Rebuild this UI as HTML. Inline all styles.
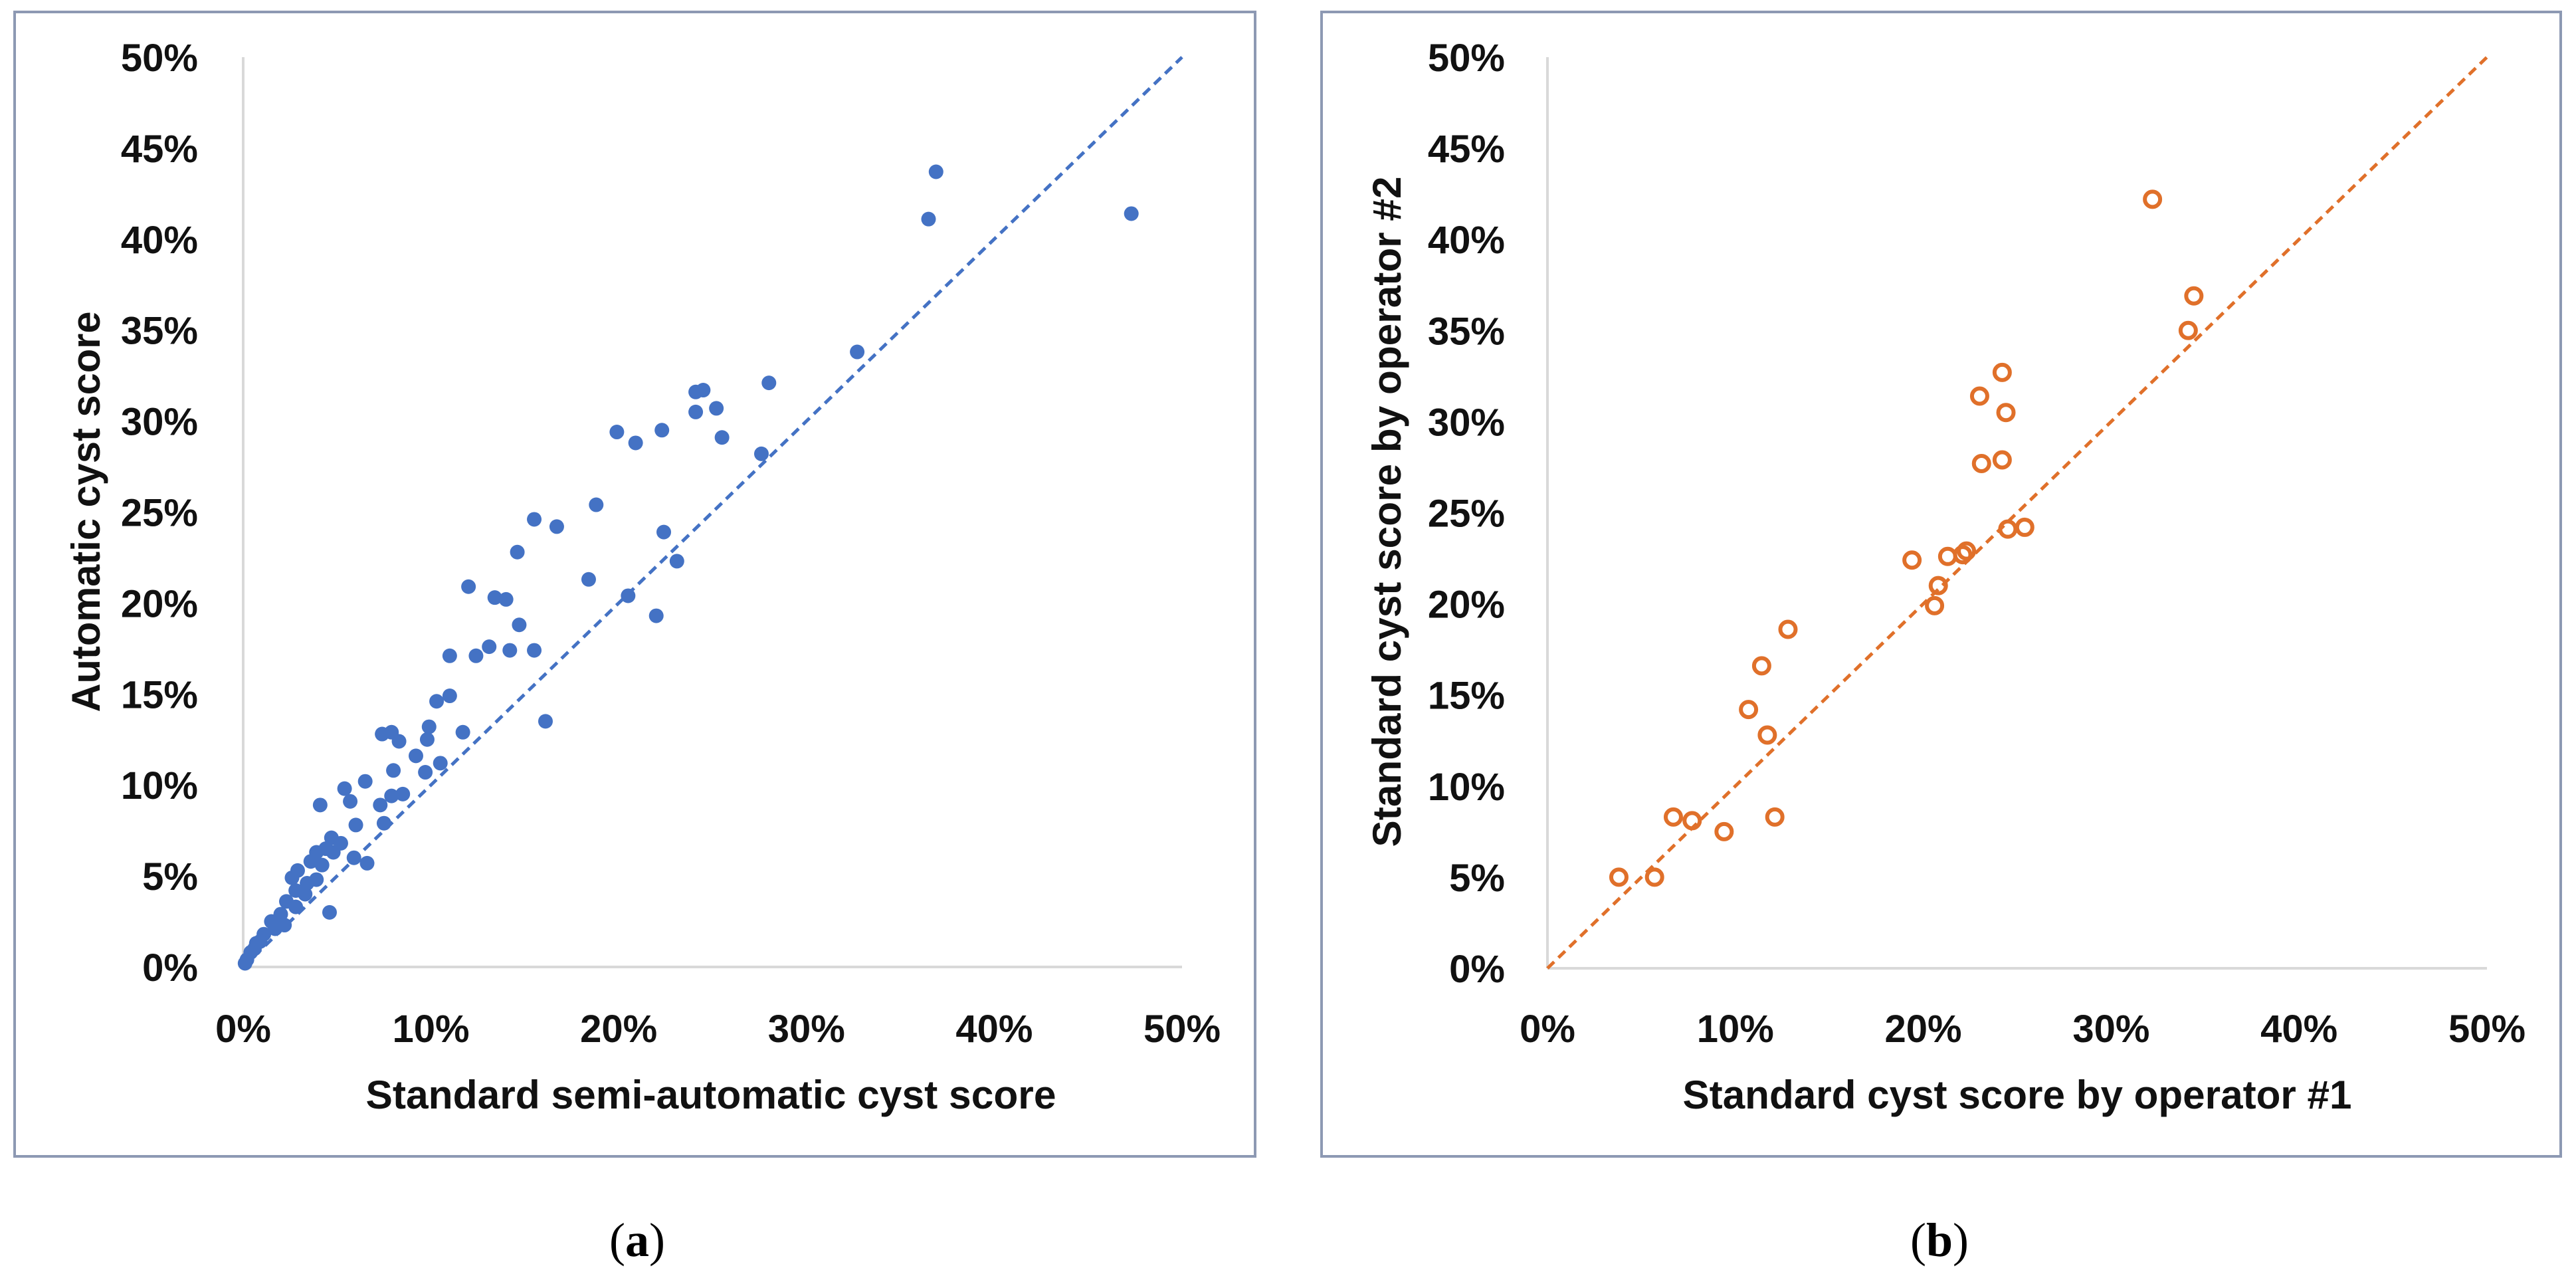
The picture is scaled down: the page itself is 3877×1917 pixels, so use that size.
<!DOCTYPE html>
<html><head><meta charset="utf-8"><style>
html,body{margin:0;padding:0;background:#fff;}
svg{display:block;}
text{font-family:"Liberation Sans",sans-serif;}
</style></head><body>
<svg id="fig" width="3877" height="1917" viewBox="0 0 3877 1917" xmlns="http://www.w3.org/2000/svg">
<rect x="0" y="0" width="3877" height="1917" fill="#fff"/>
<rect x="22" y="18" width="1867" height="1722" fill="none" stroke="#8d99b3" stroke-width="4"/>
<rect x="1989" y="18" width="1865" height="1722" fill="none" stroke="#8d99b3" stroke-width="4"/>
<g id="pa"></g>
<g id="pb"></g>
<text x="1070" y="1668" text-anchor="middle" font-size="60" font-weight="bold" textLength="1039" lengthAdjust="spacingAndGlyphs" fill="#111">Standard semi-automatic cyst score</text>
<text transform="translate(150,770) rotate(-90)" text-anchor="middle" font-size="60" font-weight="bold" textLength="603" lengthAdjust="spacingAndGlyphs" fill="#111">Automatic cyst score</text>
<text x="3036" y="1668" text-anchor="middle" font-size="60" font-weight="bold" textLength="1007" lengthAdjust="spacingAndGlyphs" fill="#111">Standard cyst score by operator #1</text>
<text transform="translate(2108,770) rotate(-90)" text-anchor="middle" font-size="60" font-weight="bold" textLength="1009" lengthAdjust="spacingAndGlyphs" fill="#111">Standard cyst score by operator #2</text>
<text x="959" y="1890" text-anchor="middle" font-size="72" style="font-family:'Liberation Serif',serif">(<tspan font-weight="bold">a</tspan>)</text>
<text x="2919" y="1890" text-anchor="middle" font-size="72" style="font-family:'Liberation Serif',serif">(<tspan font-weight="bold">b</tspan>)</text>
</svg>
<script>
const tickValues = [0,5,10,15,20,25,30,35,40,45,50];
const xTickValues = [0,10,20,30,40,50];
const aX = [36.9,36.5,47.3,32.7,28.0,27.6,24.1,24.5,24.1,25.2,25.5,19.9,20.9,22.3,18.8,15.5,16.7,14.6,22.4,23.1,18.4,20.5,22.0,12.0,13.4,14.0,14.7,13.1,14.2,15.5,11.0,12.4,16.1,10.3,11.0,9.9,11.7,9.8,7.4,7.9,8.3,9.2,8.0,10.5,9.7,8.5,7.9,7.3,7.5,4.1,5.4,5.7,6.5,6.0,6.6,5.9,4.7,5.2,4.8,3.9,3.6,4.4,4.6,3.9,2.6,2.8,3.3,2.3,2.8,2.0,2.2,1.5,1.1,0.7,0.4,0.2,0.1,1.7,2.9,3.4,4.2,0.6,0.9];
const aY = [43.7,41.1,41.4,33.8,32.1,28.2,31.6,31.7,30.5,30.7,29.1,29.4,28.8,29.5,25.4,24.6,24.2,22.8,23.9,22.3,21.3,20.4,19.3,20.9,20.3,20.2,18.8,17.6,17.4,17.4,17.1,17.1,13.5,14.6,14.9,13.2,12.9,12.5,12.8,12.9,12.4,11.6,10.8,11.2,10.7,9.5,9.4,8.9,7.9,8.9,9.8,9.1,10.2,7.8,5.7,6.0,7.1,6.8,6.3,6.3,5.8,6.5,3.0,4.8,4.9,4.2,4.0,3.6,3.3,2.9,2.3,2.5,1.8,1.3,0.8,0.4,0.2,2.1,5.3,4.6,5.6,1.0,1.4];
const bX = [32.2,34.4,34.1,24.2,23.0,24.4,23.1,24.2,24.5,25.4,19.4,21.3,22.1,22.3,20.8,20.6,12.8,11.4,10.7,11.7,6.7,7.7,9.4,12.1,3.8,5.7];
const bY = [42.2,36.9,35.0,32.7,31.4,30.5,27.7,27.9,24.1,24.2,22.4,22.6,22.7,22.9,21.0,19.9,18.6,16.6,14.2,12.8,8.3,8.1,7.5,8.3,5.0,5.0];
const NS='http://www.w3.org/2000/svg';
function mk(tag, attrs, parent){const e=document.createElementNS(NS,tag);for(const k in attrs)e.setAttribute(k,attrs[k]);parent.appendChild(e);return e;}
function drawPanel(g, cfg, xs, ys, key){
  const sx=v=>cfg.x0+(v/50)*(cfg.x50-cfg.x0);
  const sy=v=>cfg.y0-(v/50)*(cfg.y0-cfg.y50);
  let l=mk('line',{x1:sx(0),y1:sy(0),x2:sx(0),y2:sy(50),stroke:'#d9d9d9','stroke-width':4},g);
  
  
  l=mk('line',{x1:sx(0),y1:sy(0),x2:sx(50),y2:sy(0),stroke:'#d9d9d9','stroke-width':4},g);
  
  
  tickValues.forEach(v=>{
    const t=mk('text',{x:cfg.ylabR,y:sy(v)+21,'text-anchor':'end','font-size':58,'font-weight':'bold',fill:'#111'},g);
    t.textContent=v+'%';
    
    
  });
  xTickValues.forEach(v=>{
    const t=mk('text',{x:sx(v),y:cfg.xlabY,'text-anchor':'middle','font-size':58,'font-weight':'bold',fill:'#111'},g);
    t.textContent=v+'%';
    
    
  });
  const d=mk('line',{x1:sx(0),y1:sy(0),x2:sx(50),y2:sy(50),stroke:cfg.color,'stroke-width':5,'stroke-dasharray':'14 9'},g);
  
  
  xs.forEach((v,i)=>{
    const c=cfg.open
      ? mk('circle',{cx:sx(v),cy:sy(ys[i]),r:11.5,fill:'none',stroke:cfg.color,'stroke-width':6},g)
      : mk('circle',{cx:sx(v),cy:sy(ys[i]),r:11,fill:cfg.color},g);
    
    
  });
}
drawPanel(document.getElementById('pa'),{x0:366,x50:1779,y0:1455,y50:86,ylabR:298,xlabY:1568,color:'#4472C4',open:false},aX,aY,'panel-a');
drawPanel(document.getElementById('pb'),{x0:2329,x50:3743,y0:1457,y50:86,ylabR:2265,xlabY:1568,color:'#E0702A',open:true},bX,bY,'panel-b');
</script>
</body></html>
